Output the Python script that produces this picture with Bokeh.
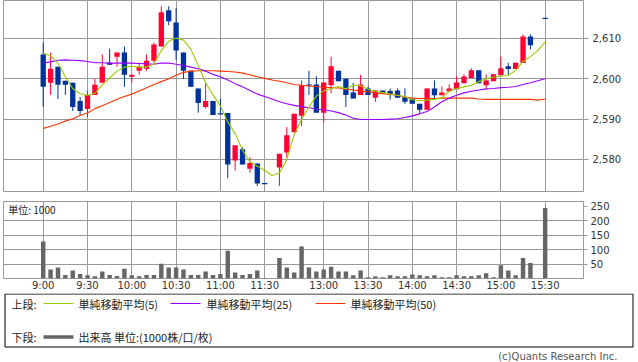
from bokeh.plotting import figure
from bokeh.layouts import column
from bokeh.models import Range1d, FixedTicker, NumeralTickFormatter, ColumnDataSource, Label
from bokeh.embed import file_html
from bokeh.resources import INLINE
from bokeh.core.properties import value

# ---------------- data ----------------
times = ["9:00", "9:05", "9:10", "9:15", "9:20", "9:25", "9:30", "9:35", "9:40", "9:45",
         "9:50", "9:55", "10:00", "10:05", "10:10", "10:15", "10:20", "10:25", "10:30", "10:35",
         "10:40", "10:45", "10:50", "10:55", "11:00", "11:05", "11:10", "11:15", "11:20", "11:25",
         "11:30",
         "12:30", "12:35", "12:40", "12:45", "12:50", "12:55", "13:00", "13:05", "13:10", "13:15",
         "13:20", "13:25", "13:30", "13:35", "13:40", "13:45", "13:50", "13:55", "14:00", "14:05",
         "14:10", "14:15", "14:20", "14:25", "14:30", "14:35", "14:40", "14:45", "14:50", "14:55",
         "15:00", "15:05", "15:10", "15:15", "15:20",
         "15:30"]

opens = [2606, 2599, 2603, 2599.5, 2599, 2594.5, 2592.5, 2596, 2599, 2604,
         2605.5, 2606.5, 2600.5, 2602, 2602.5, 2604.5, 2608, 2617, 2614, 2606.5,
         2602, 2597.6, 2593, 2594.5, 2591.3, 2591.5, 2579.7, 2582.5, 2577.7, 2579,
         2574,
         2578, 2581.7, 2586.8, 2590.8, 2598.6, 2598.6, 2591.6, 2598.4, 2602, 2600,
         2596.6, 2596, 2597.6, 2595.3, 2597.1, 2597, 2597.1, 2595.4, 2595, 2593.8,
         2592.3, 2597.6, 2595.9, 2596.9, 2597.4, 2598.9, 2600.2, 2602.1, 2598.4, 2599.4,
         2600.9, 2603.1, 2602.4, 2603.9, 2610.5,
         2615]

highs = [2609, 2606.5, 2603, 2599.5, 2599, 2595.5, 2597, 2600, 2606, 2607.5,
         2606.5, 2608, 2601, 2604, 2606, 2609, 2618, 2618, 2617.5, 2606.5,
         2602, 2597.6, 2599, 2594.5, 2595, 2591.5, 2583.5, 2583, 2580.5, 2579,
         2574,
         2581.4, 2588, 2591.3, 2599.6, 2602, 2600.6, 2599.1, 2605.5, 2602, 2600,
         2599, 2601, 2598, 2597.1, 2597.1, 2597.6, 2597.6, 2597.6, 2595, 2593.8,
         2597.6, 2599.6, 2598.1, 2598.6, 2600.6, 2601.1, 2602.6, 2602.1, 2601.1, 2601.1,
         2605.5, 2604, 2604, 2611, 2611,
         2615]

lows = [2593, 2596, 2595, 2596, 2592, 2591, 2590.5, 2596, 2599, 2603.5,
        2603, 2598, 2599, 2601, 2602, 2604, 2608, 2613.3, 2604.7, 2600,
        2598, 2591.6, 2592.6, 2591, 2591.3, 2575.3, 2577.2, 2578.7, 2576.7, 2573.4,
        2574,
        2573.4, 2580.4, 2586.4, 2588.3, 2596, 2591.6, 2589.2, 2596.4, 2599.4, 2593,
        2595.1, 2596, 2596, 2594.3, 2596.4, 2594.8, 2595.3, 2593.8, 2593.8, 2591.3,
        2592.3, 2595.1, 2595.9, 2596.9, 2597.4, 2598.9, 2600.2, 2598.9, 2597.4, 2599.4,
        2600.9, 2600.9, 2602.4, 2603.9, 2607.3,
        2615]

closes = [2598, 2602.5, 2598.5, 2598.5, 2593, 2592, 2596, 2598.5, 2603, 2603.5,
          2606.5, 2601, 2601, 2603, 2604.5, 2608.5, 2616.5, 2614.3, 2607, 2602,
          2598, 2594, 2594.5, 2591, 2591.3, 2578.7, 2583.5, 2578.7, 2579.1, 2574,
          2574,
          2581.4, 2586, 2591.3, 2598.4, 2598.3, 2591.6, 2599.1, 2603.1, 2599.4, 2596,
          2595.1, 2598.6, 2596, 2597.1, 2596.4, 2596.1, 2595.3, 2594.3, 2593.8, 2592.3,
          2597.6, 2595.9, 2596.6, 2597.6, 2599.1, 2600.6, 2602.1, 2598.9, 2599.6, 2601.1,
          2602.6, 2602.4, 2604, 2610.5, 2608.3,
          2615]

volume = [128, 31, 38, 12, 28, 16, 11, 8, 24, 12,
          9, 34, 11, 8, 12, 12, 51, 38, 38, 31,
          12, 12, 24, 12, 16, 96, 21, 12, 16, 28,
          2,
          71, 38, 21, 111, 38, 24, 31, 41, 24, 24,
          11, 28, 4, 8, 4, 11, 8, 8, 14, 11,
          8, 11, 4, 4, 11, 8, 8, 11, 18, 4,
          46, 28, 11, 71, 54,
          244]

# moving averages, one value per 5-minute slot (9:00 ... 15:30)
ma5 = [2606.4, 2605.7, 2603.9, 2600.5, 2597.6, 2596.3, 2595.9, 2596.4, 2598.5, 2600.2,
       2601.9, 2602.9, 2603.1, 2602.9, 2602.9, 2603.7, 2607.0, 2609.3, 2610.1, 2609.6,
       2607.3, 2603.3, 2599.0, 2596.0, 2593.3, 2589.3, 2586.4, 2582.3, 2579.4, 2578.3,
       2577.3, 2576.0, 2576.6, 2580.0, 2586.2, 2589.9, 2593.0, 2595.7, 2597.0, 2597.6,
       2598.1, 2597.5, 2598.4, 2598.3, 2597.4, 2596.9, 2596.6, 2596.2, 2595.9, 2595.6,
       2594.8, 2594.6, 2594.7, 2594.9, 2595.3, 2596.9, 2597.6, 2598.0, 2598.4, 2599.3,
       2600.0, 2600.4, 2600.7, 2600.8, 2602.1, 2604.3, 2605.5, 2607.0, 2609.1]

ma25 = [2603.9, 2604.2, 2604.6, 2604.7, 2604.6, 2604.5, 2604.3, 2604.0, 2604.0, 2603.9,
        2603.9, 2603.9, 2603.9, 2603.8, 2603.7, 2603.6, 2603.9, 2603.9, 2603.6, 2603.3,
        2602.9, 2602.5, 2601.9, 2601.1, 2600.5, 2599.7, 2598.8, 2598.0, 2597.1, 2596.2,
        2595.6, 2595.0, 2594.3, 2593.8, 2593.4, 2593.1, 2592.8, 2592.5, 2592.3, 2592.0,
        2591.6, 2591.0, 2590.2, 2589.9, 2589.9, 2589.9, 2589.9, 2590.0, 2590.1, 2590.4,
        2590.8, 2591.3, 2591.9, 2593.0, 2594.3, 2595.2, 2595.9, 2596.5, 2596.9, 2597.2,
        2597.5, 2597.6, 2597.8, 2597.9, 2598.1, 2598.6, 2599.0, 2599.5, 2600.0]

ma50 = [2587.7, 2588.2, 2588.8, 2589.5, 2590.1, 2590.9, 2591.5, 2592.6, 2593.3, 2594.1,
        2594.9, 2595.6, 2596.2, 2597.0, 2597.8, 2598.6, 2599.3, 2600.0, 2600.9, 2601.6,
        2601.9, 2602.0, 2602.0, 2602.0, 2601.9, 2601.8, 2601.7, 2601.4, 2601.0, 2600.5,
        2600.1, 2599.7, 2599.4, 2599.0, 2598.6, 2598.4, 2598.2, 2598.1, 2597.9, 2597.8,
        2597.7, 2597.5, 2597.2, 2597.0, 2596.8, 2596.5, 2596.3, 2596.1, 2595.9, 2595.5,
        2595.2, 2595.1, 2595.1, 2595.1, 2595.2, 2595.2, 2595.2, 2595.2, 2595.2, 2595.0,
        2594.9, 2594.9, 2594.9, 2594.9, 2594.9, 2594.9, 2594.9, 2594.7, 2595.0]

tick_labels = ["9:00", "9:30", "10:00", "10:30", "11:00", "11:30",
               "13:00", "13:30", "14:00", "14:30", "15:00", "15:30"]
price_ticks = [2580, 2590, 2600, 2610]
volume_ticks = [50, 100, 150, 200, 250]

legend_texts = ["単純移動平均(5)", "単純移動平均(25)", "単純移動平均(50)"]
volume_legend_text = "出来高 単位:(1000株/口/枚)"

# ---------------- styling ----------------
UP = "#ff0033"
DOWN = "#003399"
GRID = "#999999"
C_MA5 = "#99cc00"
C_MA25 = "#9900ff"
C_MA50 = "#ff3300"
VOLC = "#666666"
AXIS_FONT = "DejaVu Sans"
JP_FONT = "Noto Sans CJK JP"


def slot_of(t):
    h, m = map(int, t.split(":"))
    mins = h * 60 + m
    if mins <= 11 * 60 + 30:
        return (mins - 540) // 5
    return 32 + (mins - 750) // 5


xs = [slot_of(t) for t in times]
tick_pos = [slot_of(t) for t in tick_labels]
ma_x = list(range(len(ma5)))

colors = [UP if c > o else DOWN for o, c in zip(opens, closes)]
body_top, body_bot = [], []
for o, c in zip(opens, closes):
    t, b = max(o, c), min(o, c)
    if t - b < 0.3:
        mid = (t + b) / 2
        t, b = mid + 0.15, mid - 0.15
    body_top.append(t)
    body_bot.append(b)

src = ColumnDataSource(dict(x=xs, open=opens, high=highs, low=lows, close=closes,
                            color=colors, top=body_top, bottom=body_bot, vol=volume))

X0, X1 = -5.38, 73.19

# ---------------- price panel ----------------
p1 = figure(width=638, height=196, x_range=Range1d(X0, X1), y_range=Range1d(2572.03, 2619.43),
            output_backend="svg", toolbar_location=None, x_axis_location=None,
            y_axis_location="right", min_border_left=3, min_border_right=55,
            min_border_top=0, min_border_bottom=5)
p1.outline_line_color = GRID
p1.xgrid.ticker = FixedTicker(ticks=tick_pos)
p1.ygrid.ticker = FixedTicker(ticks=price_ticks)
p1.grid.grid_line_color = GRID
p1.grid.grid_line_width = 1
ax = p1.yaxis[0]
ax.ticker = FixedTicker(ticks=price_ticks)
ax.formatter = NumeralTickFormatter(format="0,0")
ax.axis_line_color = None
ax.major_tick_line_color = GRID
ax.major_tick_out = 5
ax.major_tick_in = 0
ax.minor_tick_line_color = None
ax.major_label_text_font = AXIS_FONT
ax.major_label_text_font_size = "10px"
ax.major_label_text_color = "#333333"
ax.major_label_standoff = 4

p1.segment(x0="x", y0="low", x1="x", y1="high", line_color="color", line_width=1, source=src)
p1.vbar(x="x", width=0.72, top="top", bottom="bottom", fill_color="color", line_color=None, source=src)
p1.line(ma_x, ma50, line_color=C_MA50, line_width=1.1)
p1.line(ma_x, ma25, line_color=C_MA25, line_width=1.1)
p1.line(ma_x, ma5, line_color=C_MA5, line_width=1.1)

# ---------------- volume panel ----------------
p2 = figure(width=638, height=97, x_range=Range1d(X0, X1), y_range=Range1d(0, 266.7),
            output_backend="svg", toolbar_location=None, y_axis_location="right",
            min_border_left=3, min_border_right=55, min_border_top=5, min_border_bottom=12)
p2.outline_line_color = GRID
p2.xgrid.ticker = FixedTicker(ticks=tick_pos)
p2.ygrid.ticker = FixedTicker(ticks=volume_ticks[:-1])
p2.grid.grid_line_color = GRID
xa = p2.xaxis[0]
xa.ticker = FixedTicker(ticks=tick_pos)
xa.major_label_overrides = {p: lab for p, lab in zip(tick_pos, tick_labels)}
xa.axis_line_color = None
xa.major_tick_line_color = None
xa.major_tick_out = 0
xa.major_tick_in = 0
xa.minor_tick_line_color = None
xa.major_label_standoff = 1
xa.major_label_text_font = AXIS_FONT
xa.major_label_text_font_size = "10px"
xa.major_label_text_color = "#333333"
ya = p2.yaxis[0]
ya.ticker = FixedTicker(ticks=volume_ticks)
ya.axis_line_color = None
ya.major_tick_line_color = GRID
ya.major_tick_out = 4
ya.major_tick_in = 0
ya.minor_tick_line_color = None
ya.major_label_standoff = 3
ya.major_label_text_font = AXIS_FONT
ya.major_label_text_font_size = "10px"
ya.major_label_text_color = "#333333"

p2.vbar(x="x", width=0.6, top="vol", bottom=0, fill_color=VOLC, line_color=None, source=src)
p2.add_layout(Label(x=X0 + 0.65, y=240, text="単位: 1000", text_font=JP_FONT,
                    text_font_size="10px", text_baseline="middle", text_color="#222222"))

# ---------------- legend panel ----------------
p3 = figure(width=638, height=69, x_range=Range1d(0, 638), y_range=Range1d(69, 0),
            output_backend="svg", toolbar_location=None, x_axis_location=None,
            y_axis_location=None, min_border=0)
p3.outline_line_color = None
p3.grid.visible = False
p3.quad(left=[4.5], right=[632.5], top=[0.5], bottom=[53.5], fill_color=None, line_color="#000000", line_width=1)
p3.segment(x0=[43, 170, 315], y0=[10, 10, 10], x1=[73, 200, 345], y1=[10, 10, 10],
           line_color=[C_MA5, C_MA25, C_MA50], line_width=1.2)
p3.segment(x0=[43], y0=[43.5], x1=[73], y1=[43.5], line_color=VOLC, line_width=3.5)
p3.text(x=[11, 78, 206, 350, 11, 78], y=[10, 10, 10, 10, 43.5, 43.5],
        text=["上段:"] + legend_texts + ["下段:", volume_legend_text],
        text_font=value(JP_FONT), text_font_size="11px", text_baseline="middle",
        text_color="#222222")
p3.text(x=[617], y=[63], text=["(c)Quants Research Inc."], text_align="right",
        text_font=value("DejaVu Sans"), text_font_size="10px", text_baseline="middle",
        text_color="#555555")

layout = column(column(p1, p2, spacing=0), p3, spacing=0)
open("out.html", "w").write(file_html(layout, INLINE))
